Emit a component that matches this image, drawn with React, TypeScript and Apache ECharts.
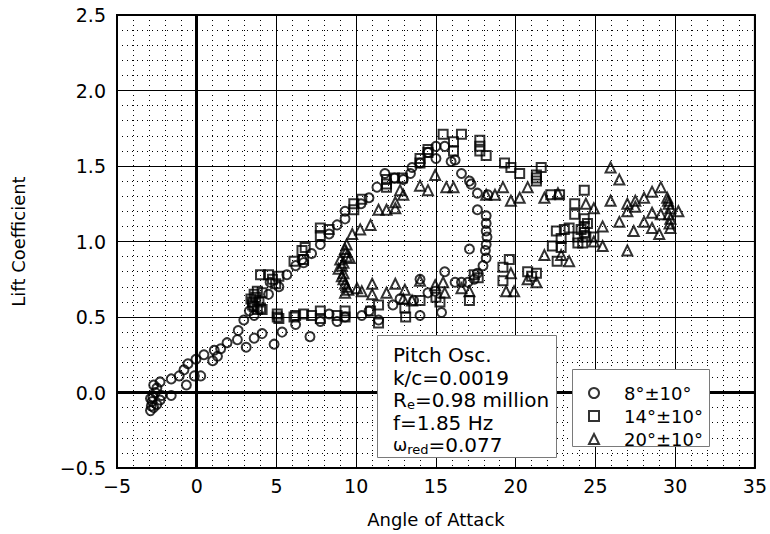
import React, { useEffect, useRef } from 'react';
import * as echarts from 'echarts';

const seriesNames = ['8°±10°', '14°±10°', '20°±10°'];

const circleData: [number, number][] = [
  [-2.9, -0.12], [-2.85, -0.09], [-2.8, -0.06], [-2.75, -0.03], [-2.9, -0.04], [-2.7, -0.1],
  [-2.6, 0.0], [-2.5, -0.08], [-2.3, -0.05], [-2.7, 0.05], [-2.5, 0.03], [-2.2, -0.02], [-1.6, -0.02],
  [-2.3, 0.07], [-1.6, 0.09], [-1.1, 0.11], [-0.8, 0.15], [-0.55, 0.19], [-0.05, 0.22], [0.45, 0.25],
  [1.1, 0.28], [1.5, 0.29], [1.9, 0.33], [2.55, 0.35], [2.6, 0.41], [2.95, 0.48], [3.3, 0.54],
  [3.6, 0.51], [4.5, 0.65], [4.6, 0.73], [5.15, 0.7], [5.65, 0.78], [6.2, 0.84], [6.6, 0.88],
  [6.7, 0.86], [7.2, 0.92], [7.75, 0.98], [8.3, 1.05], [8.8, 1.11], [9.3, 1.15], [9.3, 1.2],
  [10.3, 1.25], [10.8, 1.29], [11.3, 1.36], [11.8, 1.45], [12.4, 1.42], [12.95, 1.41], [13.5, 1.49],
  [13.4, 1.45], [14.0, 1.52], [14.5, 1.59], [15.0, 1.63], [15.55, 1.63], [15.0, 1.55], [15.95, 1.53],
  [16.2, 1.54], [16.6, 1.45], [17.1, 1.4], [17.2, 1.38], [17.6, 1.32], [18.25, 1.31], [17.6, 1.21],
  [18.15, 1.17], [18.15, 1.12], [18.15, 1.07], [18.2, 1.03], [18.15, 0.98], [18.1, 0.94], [18.15, 0.89],
  [17.95, 0.84], [17.6, 0.79], [17.4, 0.75], [17.0, 0.73], [16.6, 0.73], [16.2, 0.73], [17.1, 0.95],
  [15.55, 0.8], [14.95, 0.67], [14.5, 0.66], [14.0, 0.75], [14.0, 0.51], [15.35, 0.53], [13.6, 0.61],
  [12.75, 0.62], [12.3, 0.58], [11.4, 0.48], [10.8, 0.54], [10.35, 0.51], [9.3, 0.5], [8.8, 0.47],
  [8.3, 0.52], [7.75, 0.47], [7.1, 0.37], [6.2, 0.45], [5.35, 0.4], [4.85, 0.32], [4.1, 0.39],
  [3.6, 0.36], [3.1, 0.3], [1.0, 0.21], [1.3, 0.24], [0.25, 0.11], [-0.15, 0.11], [-0.65, 0.05]
];

const squareData: [number, number][] = [
  [3.4, 0.62], [3.5, 0.6], [3.6, 0.65], [3.6, 0.57], [3.7, 0.63], [3.8, 0.55], [3.9, 0.6],
  [4.0, 0.56], [4.1, 0.66], [4.1, 0.55], [3.5, 0.58], [3.8, 0.67],
  [4.0, 0.78], [4.5, 0.78], [4.75, 0.75], [4.95, 0.72], [5.15, 0.77], [6.1, 0.87], [6.6, 0.94],
  [6.7, 0.88], [6.8, 0.96], [7.75, 1.09], [8.3, 1.08], [7.75, 1.04], [9.85, 1.25], [9.85, 1.21],
  [10.35, 1.28], [11.9, 1.41], [11.9, 1.38], [11.9, 1.36], [12.4, 1.42], [12.9, 1.42], [14.0, 1.52],
  [14.0, 1.55], [14.5, 1.59], [14.5, 1.61], [15.45, 1.71], [16.6, 1.71], [16.1, 1.66], [16.1, 1.6],
  [17.75, 1.67], [17.75, 1.63], [17.75, 1.6], [18.15, 1.57], [19.3, 1.52], [19.7, 1.49], [20.25, 1.45],
  [21.3, 1.44], [21.3, 1.4], [21.6, 1.49], [21.3, 1.42], [22.2, 1.31], [22.75, 1.31], [24.3, 1.34],
  [23.7, 1.25], [23.7, 1.18], [24.3, 1.15], [24.3, 1.1], [24.3, 1.06], [24.4, 1.03], [24.2, 0.99],
  [24.5, 1.12], [24.1, 1.08], [22.55, 1.07], [23.05, 1.08], [23.35, 1.09], [23.9, 1.03], [23.9, 0.99],
  [24.9, 1.03], [22.85, 1.02], [22.3, 0.97], [22.85, 0.96], [22.6, 0.87],
  [21.3, 0.79], [20.75, 0.8], [21.0, 0.77], [19.6, 0.88], [19.2, 0.83], [19.2, 0.74], [17.65, 0.76],
  [17.4, 0.78], [17.1, 0.61], [15.25, 0.6], [15.0, 0.63], [14.0, 0.61], [13.05, 0.56], [13.1, 0.5],
  [11.4, 0.58], [11.4, 0.46], [10.9, 0.54], [9.3, 0.54], [9.3, 0.5], [8.8, 0.51], [7.75, 0.54],
  [7.75, 0.49], [7.2, 0.51], [6.7, 0.52], [6.1, 0.5], [6.2, 0.51], [5.15, 0.49], [5.05, 0.52], [5.05, 0.5]
];

const triangleData: [number, number][] = [
  [9.4, 0.98], [9.3, 0.95], [9.4, 0.9], [9.0, 0.88], [9.1, 0.84], [8.9, 0.82], [9.2, 0.79],
  [9.2, 0.75], [9.4, 0.7], [9.6, 0.89], [9.3, 0.66], [9.2, 0.86], [9.35, 0.93], [9.1, 0.77],
  [9.3, 0.72], [9.5, 0.68],
  [10.05, 0.69], [10.35, 0.67], [11.0, 0.72], [11.0, 0.65], [11.9, 0.66], [12.45, 0.72], [13.05, 0.68],
  [12.95, 0.62], [13.5, 0.61], [14.0, 0.74], [14.95, 0.71], [15.55, 0.66], [15.45, 0.73], [16.6, 0.69],
  [17.1, 0.67], [19.4, 0.67], [19.9, 0.67], [20.75, 0.75], [21.3, 0.73], [19.7, 0.79], [21.8, 0.91],
  [22.85, 0.91], [23.35, 0.87], [24.9, 1.0], [25.45, 0.97], [25.45, 1.1], [27.0, 0.94], [26.5, 1.13],
  [27.4, 1.07], [28.05, 1.13], [28.55, 1.09], [29.0, 1.05], [29.7, 1.09],
  [9.75, 1.05], [10.25, 1.08], [10.9, 1.11], [11.4, 1.21], [11.9, 1.21], [12.45, 1.26], [12.45, 1.22],
  [12.75, 1.34], [12.95, 1.31], [14.0, 1.37], [14.5, 1.34], [14.95, 1.44], [15.65, 1.36], [16.1, 1.36],
  [18.15, 1.31], [18.7, 1.31], [19.2, 1.36], [19.7, 1.27], [20.25, 1.29], [20.75, 1.36], [21.8, 1.29],
  [22.65, 1.32], [24.4, 1.25], [24.9, 1.22], [25.95, 1.49], [26.5, 1.41], [25.95, 1.27], [27.0, 1.25],
  [27.0, 1.2], [27.5, 1.27], [27.5, 1.23], [28.05, 1.29], [28.55, 1.33], [29.1, 1.36], [28.55, 1.19],
  [29.1, 1.18], [29.5, 1.29], [29.6, 1.25], [29.7, 1.22], [29.6, 1.18], [29.7, 1.15], [29.65, 1.12],
  [29.55, 1.27], [30.2, 1.2]
];

const annotationLines = [
  'Pitch Osc.',
  'k/c=0.0019',
  '{a|R}{s|e}{a|=0.98 million}',
  'f=1.85 Hz',
  '{w|ω}{s|red}{a|=0.077}'
];

const FONT = 'DejaVu Sans';

export default function App() {
  const ref = useRef<HTMLDivElement>(null);
  useEffect(() => {
    if (!ref.current) return;
    const chart = echarts.init(ref.current, null, { renderer: 'svg' });
    const symbolStyle = { color: 'rgba(0,0,0,0)', borderColor: '#000', borderWidth: 2 };
    const mk = (name: string, symbol: string, data: [number, number][], size: number, extra: any = {}) => ({
      type: 'scatter',
      name,
      symbol,
      symbolSize: size,
      data,
      itemStyle: symbolStyle,
      emphasis: { disabled: true },
      z: 3,
      ...extra
    });
    const minus = (v: number, d: number) => (v < 0 ? '\u2212' + Math.abs(v).toFixed(d) : v.toFixed(d));
    const rich = {
      a: { fontSize: 20, fontFamily: FONT, color: '#000', lineHeight: 22, verticalAlign: 'middle' },
      w: { fontSize: 17, fontFamily: FONT, color: '#000', lineHeight: 22, verticalAlign: 'middle' },
      s: { fontSize: 13, fontFamily: FONT, color: '#000', lineHeight: 22, verticalAlign: 'bottom' }
    };
    const lineY = [355, 377.5, 400, 422.5, 445];
    chart.setOption({
      animation: false,
      backgroundColor: '#fff',
      grid: { left: 117, top: 15, right: 12, bottom: 66, show: true, borderColor: '#000', borderWidth: 2, containLabel: false },
      xAxis: {
        type: 'value', min: -5, max: 35, interval: 5,
        name: 'Angle of Attack', nameLocation: 'middle', nameGap: 42,
        nameTextStyle: { fontSize: 18, fontFamily: FONT, color: '#000' },
        axisLine: { show: true, lineStyle: { color: '#000', width: 2 } },
        axisTick: { show: false },
        axisLabel: { fontSize: 19, fontFamily: FONT, color: '#000', margin: 8, formatter: (v: number) => minus(v, 0) },
        splitLine: { show: true, lineStyle: { color: '#000', width: 1 } },
        minorTick: { show: false, splitNumber: 5 },
        minorSplitLine: { show: true, lineStyle: { color: '#000', width: 1, type: [1, 4] } }
      },
      yAxis: {
        type: 'value', min: -0.5, max: 2.5, interval: 0.5,
        name: 'Lift Coefficient', nameLocation: 'middle', nameGap: 90, nameRotate: 90,
        nameTextStyle: { fontSize: 18, fontFamily: FONT, color: '#000' },
        axisLine: { show: true, lineStyle: { color: '#000', width: 2 } },
        axisTick: { show: false },
        axisLabel: { fontSize: 19, fontFamily: FONT, color: '#000', margin: 11, formatter: (v: number) => minus(v, 1) },
        splitLine: { show: true, lineStyle: { color: '#000', width: 1 } },
        minorTick: { show: false, splitNumber: 5 },
        minorSplitLine: { show: true, lineStyle: { color: '#000', width: 1, type: [1, 4] } }
      },
      legend: {
        data: seriesNames,
        orient: 'vertical',
        left: 583, top: 378,
        itemWidth: 10, itemHeight: 10, itemGap: 3,
        selectedMode: false,
        z: 100,
        textStyle: { fontSize: 18, fontFamily: FONT, color: '#000', lineHeight: 20, padding: [0, 0, 0, 20] }
      },
      graphic: [
        { type: 'rect', z: 50, shape: { x: 377.5, y: 335.5, width: 179, height: 122 }, style: { fill: '#fff', stroke: '#7a7a7a', lineWidth: 1 } },
        { type: 'rect', z: 50, shape: { x: 572.5, y: 369.5, width: 137, height: 77 }, style: { fill: '#fff', stroke: '#7a7a7a', lineWidth: 1 } },
        ...annotationLines.map((t, i) => ({
          type: 'text', z: 51, x: 393, y: lineY[i],
          style: {
            text: t.includes('{') ? t : '{a|' + t + '}',
            rich,
            verticalAlign: 'middle',
            align: 'left',
            fill: '#000'
          }
        }))
      ],
      series: [
        mk(seriesNames[0], 'circle', circleData, 9, {
          markLine: {
            silent: true, symbol: 'none', animation: false,
            label: { show: false },
            lineStyle: { color: '#000', width: 3, type: 'solid' },
            emphasis: { disabled: true },
            data: [{ xAxis: 0 }, { yAxis: 0 }]
          }
        }),
        mk(seriesNames[1], 'rect', squareData, 9),
        mk(seriesNames[2], 'triangle', triangleData, 10)
      ]
    });
    return () => chart.dispose();
  }, []);
  return <div ref={ref} style={{ position: 'fixed', left: 0, top: 0, width: 770, height: 534 }} />;
}
